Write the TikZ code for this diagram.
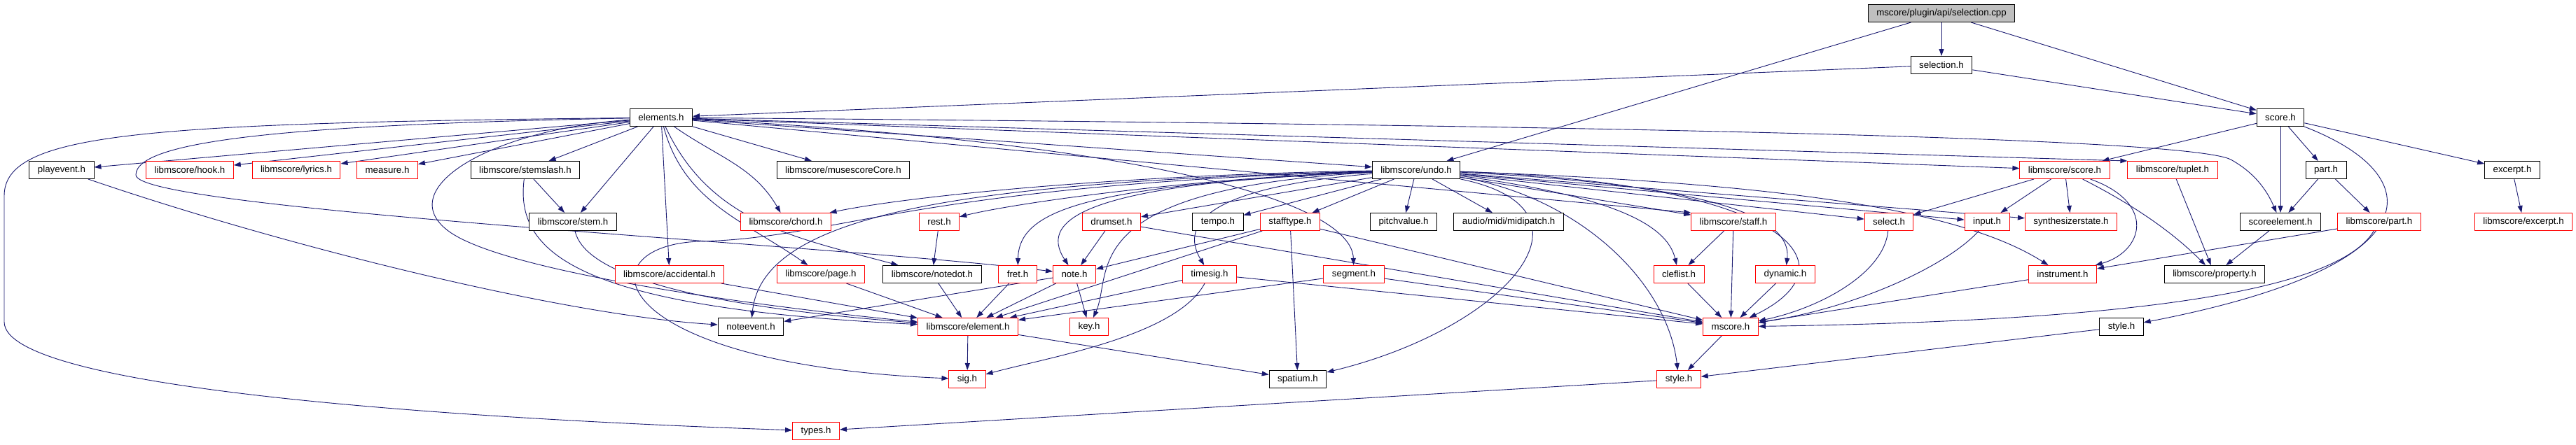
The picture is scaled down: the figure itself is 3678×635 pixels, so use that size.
\documentclass[tikz,border=0pt]{standalone}
\usepackage{fontspec}
\setmainfont{Liberation Sans}
\usepackage{tikz}
\usetikzlibrary{arrows.meta, backgrounds}
\definecolor{edgeblue}{HTML}{191970}
\definecolor{rootgray}{HTML}{BFBFBF}
\tikzset{
  file/.style={draw=black, line width=1pt, fill=white, minimum height=25pt,
    inner xsep=12pt, inner ysep=0pt, font=\fontsize{13.3}{15}\selectfont},
  trunc/.style={file, draw=red},
  root/.style={file, fill=rootgray},
  dep/.style={draw=edgeblue, line width=0.9pt, -{Triangle[length=10pt,width=7pt]}}
}

\begin{document}
\begin{tikzpicture}[x=1pt,y=-1pt]
  \useasboundingbox (0,0) rectangle (3678,635);
  % top
  \node[root] (cpp) at (2772,19) {mscore/plugin/api/selection.cpp};
  \node[file] (selh) at (2772,93) {selection.h};
  \node[file] (elements) at (944,168) {elements.h};
  \node[file] (scoreh) at (3256,168) {score.h};
  % row 3
  \node[file] (playevent) at (88,243) {playevent.h};
  \node[trunc] (hook) at (271,243) {libmscore/hook.h};
  \node[trunc] (lyrics) at (423,243) {libmscore/lyrics.h};
  \node[trunc] (measure) at (553,243) {measure.h};
  \node[file] (stemslash) at (750,243) {libmscore/stemslash.h};
  \node[file] (musescoreCore) at (1204,243) {libmscore/musescoreCore.h};
  \node[file] (undo) at (2022,243) {libmscore/undo.h};
  \node[trunc] (lscore) at (2948,243) {libmscore/score.h};
  \node[trunc] (tuplet) at (3102,243) {libmscore/tuplet.h};
  \node[file] (part) at (3321,243) {part.h};
  \node[file] (excerpt) at (3587,243) {excerpt.h};
  % row 4
  \node[file] (stem) at (818,317) {libmscore/stem.h};
  \node[trunc] (chord) at (1122,317) {libmscore/chord.h};
  \node[trunc] (rest) at (1341,317) {rest.h};
  \node[trunc] (drumset) at (1587,317) {drumset.h};
  \node[file] (tempo) at (1739,317) {tempo.h};
  \node[trunc] (stafftype) at (1842,317) {stafftype.h};
  \node[file] (pitchvalue) at (2004,317) {pitchvalue.h};
  \node[file] (midipatch) at (2154,317) {audio/midi/midipatch.h};
  \node[trunc] (staff) at (2475,317) {libmscore/staff.h};
  \node[trunc] (select) at (2697,317) {select.h};
  \node[trunc] (input) at (2837,317) {input.h};
  \node[trunc] (synth) at (2957,317) {synthesizerstate.h};
  \node[file] (scoreelement) at (3256,317) {scoreelement.h};
  \node[trunc] (lpart) at (3397,317) {libmscore/part.h};
  \node[trunc] (lexcerpt) at (3603,317) {libmscore/excerpt.h};
  % row 5
  \node[trunc] (accidental) at (956,392) {libmscore/accidental.h};
  \node[trunc] (page) at (1172,392) {libmscore/page.h};
  \node[file] (notedot) at (1331,392) {libmscore/notedot.h};
  \node[trunc] (fret) at (1453,392) {fret.h};
  \node[trunc] (note) at (1534,392) {note.h};
  \node[trunc] (timesig) at (1727,392) {timesig.h};
  \node[trunc] (segment) at (1933,392) {segment.h};
  \node[trunc] (cleflist) at (2397,392) {cleflist.h};
  \node[trunc] (dynamic) at (2549,392) {dynamic.h};
  \node[trunc] (instrument) at (2945,392) {instrument.h};
  \node[file] (property) at (3162,392) {libmscore/property.h};
  % row 6
  \node[file] (noteevent) at (1072,467) {noteevent.h};
  \node[trunc] (element) at (1382,467) {libmscore/element.h};
  \node[trunc] (key) at (1555,467) {key.h};
  \node[trunc] (mscore) at (2471,467) {mscore.h};
  \node[file] (styleb) at (3029,467) {style.h};
  % bottom
  \node[trunc] (sig) at (1381,542) {sig.h};
  \node[file] (spatium) at (1853,542) {spatium.h};
  \node[trunc] (style) at (2397,542) {style.h};
  \node[trunc] (types) at (1165,616) {types.h};

  \begin{pgfonlayer}{background}
  % straight includes
  \foreach \a/\b in {cpp/selh, cpp/undo, cpp/scoreh, selh/elements, selh/scoreh,
      scoreh/lscore, scoreh/scoreelement, scoreh/part, scoreh/excerpt,
      part/scoreelement, part/lpart, excerpt/lexcerpt, tuplet/property,
      scoreelement/property, lpart/instrument,
      lscore/select, lscore/input, lscore/synth,
      elements/playevent, elements/hook, elements/lyrics, elements/measure,
      elements/stemslash, elements/stem, elements/musescoreCore, elements/accidental,
      elements/undo, elements/lscore, elements/tuplet.north west, elements/staff.north west,
      stemslash/stem,
      undo/drumset, undo/tempo, undo/stafftype, undo/pitchvalue, undo/midipatch,
      undo/staff, undo/select, undo/input, undo/synth,
      rest/notedot, drumset/note, drumset/mscore, stafftype/note, stafftype/element,
      stafftype/spatium, stafftype/mscore,
      accidental/element, page/element, notedot/element, fret/element,
      note/element, note/key, note/noteevent, timesig/element, timesig/mscore,
      segment/element, segment/mscore,
      staff/cleflist, staff/mscore, cleflist/mscore, dynamic/mscore, instrument/mscore,
      element/sig, element/spatium, mscore/style, styleb/style, style/types}
    \draw[dep] (\a) -- (\b);

  % curved includes from elements.h
  \draw[dep] (elements) to[out=-35,in=120] (chord);
  \draw[dep] (elements) to[out=-75,in=145] (page);
  \draw[dep] (elements) to[out=-65,in=165] (notedot);
  \draw[dep] (elements) .. controls (420,178) and (194,200) .. (194,250)
    .. controls (194,300) and (1200,350) .. (note);
  \draw[dep] (elements) .. controls (700,185) and (560,270) .. (640,330)
    .. controls (720,390) and (1100,440) .. (element);
  \draw[dep] (elements) .. controls (200,176) and (6,190) .. (6,280) -- (6,460)
    .. controls (6,560) and (700,600) .. (types);
  \draw[dep] (elements) .. controls (1650,205) and (1930,290) .. (segment);
  \draw[dep] (elements) .. controls (2200,178) and (3120,195) .. (3185,228)
    .. controls (3225,250) and (3240,280) .. (scoreelement);
  \draw[dep] (stemslash) .. controls (735,360) and (820,440) .. (element);
  \draw[dep] (stem) .. controls (830,370) and (900,430) .. (element);
  \draw[dep] (playevent) .. controls (400,350) and (800,450) .. (noteevent);

  % curved includes from undo.h
  \draw[dep] (undo) .. controls (1600,250) and (1300,280) .. (chord);
  \draw[dep] (undo) .. controls (1700,255) and (1450,290) .. (rest);
  \draw[dep] (undo) .. controls (1400,260) and (1090,300) .. (noteevent);
  \draw[dep] (undo) .. controls (1300,265) and (1200,340) .. (1000,345)
    .. controls (830,350) and (860,520) .. (sig);
  \draw[dep] (undo) .. controls (1550,265) and (1455,300) .. (fret);
  \draw[dep] (undo) .. controls (1560,262) and (1480,310) .. (note);
  \draw[dep] (undo) .. controls (1530,270) and (1590,390) .. (key);
  \draw[dep] (undo) .. controls (1700,270) and (1690,330) .. (timesig);
  \draw[dep] (undo) .. controls (2300,280) and (2380,320) .. (cleflist);
  \draw[dep] (undo) .. controls (2400,262) and (2560,300) .. (dynamic);
  \draw[dep] (undo) .. controls (2560,262) and (2650,380) .. (mscore);
  \draw[dep] (undo) .. controls (2250,280) and (2380,400) .. (style);
  \draw[dep] (undo) .. controls (2300,300) and (2150,470) .. (spatium);
  \draw[dep] (undo) .. controls (2550,262) and (2800,300) .. (instrument);

  % right part
  \draw[dep] (scoreh) .. controls (3470,250) and (3480,380) .. (styleb);
  \draw[dep] (lpart) .. controls (3330,430) and (2950,460) .. (mscore);
  \draw[dep] (lscore) .. controls (3080,290) and (3060,360) .. (instrument);
  \draw[dep] (lscore) .. controls (3060,300) and (3110,340) .. (property);
  \draw[dep] (input) .. controls (2780,380) and (2650,440) .. (mscore);
  \draw[dep] (select) .. controls (2690,390) and (2600,440) .. (mscore);
  \draw[dep] (timesig) .. controls (1680,480) and (1500,510) .. (sig);
  \end{pgfonlayer}
\end{tikzpicture}
\end{document}
